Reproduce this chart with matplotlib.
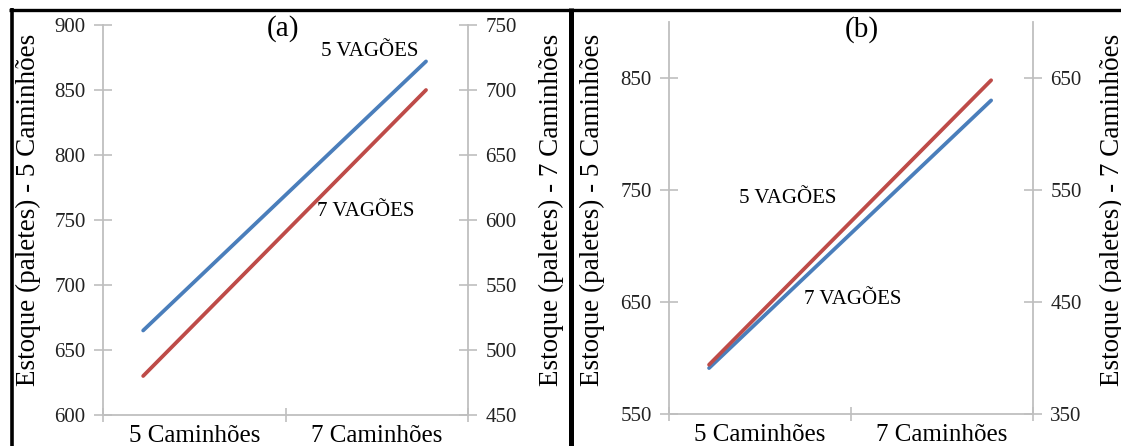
import matplotlib
matplotlib.use("Agg")
import matplotlib.pyplot as plt
from matplotlib.lines import Line2D

plt.rcParams['font.family'] = ['Liberation Serif', 'DejaVu Serif']

# ---- data -------------------------------------------------------------
categories = ["5 Caminhões", "7 Caminhões"]
line_x = [0.22, 1.77]  # horizontal span of each series on the category axis

a_5vagoes = [665, 872]
a_7vagoes = [630, 850]
b_5vagoes = [594, 848]
b_7vagoes = [591, 830]

a_left_ticks = [600, 650, 700, 750, 800, 850, 900]
a_right_ticks = [450, 500, 550, 600, 650, 700, 750]
b_left_ticks = [550, 650, 750, 850]
b_right_ticks = [350, 450, 550, 650]

left_label = "Estoque (paletes) - 5 Caminhões"
right_label = "Estoque (paletes) - 7 Caminhões"

BLUE = "#4A7EBB"
RED = "#BE4B48"
GRID = "#BFBFBF"

W, H = 1121, 446
fig = plt.figure(figsize=(W / 100, H / 100), dpi=100)


def style_axis(ax, twin, left_lim, left_ticks, right_lim, right_ticks):
    ax.set_xlim(0, 2)
    ax.set_ylim(*left_lim)
    ax.set_yticks(left_ticks)
    twin.set_ylim(*right_lim)
    twin.set_yticks(right_ticks)
    ax.set_xticks([0, 1, 2])
    ax.set_xticklabels([])
    ax.set_xticks([0.5, 1.5], minor=True)
    ax.set_xticklabels(categories, minor=True, fontsize=18)
    ax.tick_params(axis='x', which='minor', length=0, pad=7)
    ax.tick_params(axis='x', which='major', direction='inout', length=10,
                   color=GRID, width=1.2)
    for a in (ax, twin):
        for s in a.spines.values():
            s.set_visible(False)
    ax.spines['left'].set_visible(True)
    ax.spines['bottom'].set_visible(True)
    twin.spines['right'].set_visible(True)
    for s in (ax.spines['left'], ax.spines['bottom'], twin.spines['right']):
        s.set_color(GRID)
        s.set_linewidth(1.3)
    ax.tick_params(axis='y', direction='inout', length=13, color=GRID,
                   width=1.2, labelsize=15, pad=6, labelcolor='#222222')
    twin.tick_params(axis='y', direction='inout', length=13, color=GRID,
                     width=1.2, labelsize=15, pad=6, labelcolor='#222222')
    ax.tick_params(axis='x', labelcolor='black')
    ax.set_ylabel(left_label, fontsize=19.5, va='center')
    twin.set_ylabel(right_label, fontsize=19.5, rotation=90, va='center')


# ---- panel (a) --------------------------------------------------------
axa = fig.add_axes([103 / W, 1 - 415 / H, 365 / W, 390 / H])
axa2 = axa.twinx()
style_axis(axa, axa2, (600, 900), a_left_ticks, (450, 750), a_right_ticks)
axa.plot(line_x, a_5vagoes, color=BLUE, lw=2.7, solid_capstyle='round')
axa.plot(line_x, a_7vagoes, color=RED, lw=2.7, solid_capstyle='round')
axa.text(0.493, 0.99, "(a)", transform=axa.transAxes, ha='center', va='center', fontsize=21)
axa.text(0.732, 0.931, "5 VAGÕES", transform=axa.transAxes, ha='center', va='center', fontsize=15)
axa.text(0.72, 0.521, "7 VAGÕES", transform=axa.transAxes, ha='center', va='center', fontsize=15)
axa.yaxis.set_label_coords((28 - 103) / 365, 0.525)
axa2.yaxis.set_label_coords((551 - 103) / 365, 0.525)

# ---- panel (b) --------------------------------------------------------
axb = fig.add_axes([669 / W, 1 - 414 / H, 364 / W, 392 / H])
axb2 = axb.twinx()
style_axis(axb, axb2, (550, 900), b_left_ticks, (350, 700), b_right_ticks)
axb.plot(line_x, b_5vagoes, color=RED, lw=2.7, solid_capstyle='round')
axb.plot(line_x, b_7vagoes, color=BLUE, lw=2.7, solid_capstyle='round', zorder=1.9)
axb.text(0.53, 0.98, "(b)", transform=axb.transAxes, ha='center', va='center', fontsize=21)
axb.text(0.327, 0.551, "5 VAGÕES", transform=axb.transAxes, ha='center', va='center', fontsize=15)
axb.text(0.505, 0.291, "7 VAGÕES", transform=axb.transAxes, ha='center', va='center', fontsize=15)
axb.yaxis.set_label_coords((592 - 669) / 364, 0.52)
axb2.yaxis.set_label_coords((1112 - 669) / 364, 0.52)

# ---- black panel frames -----------------------------------------------
def px_line(x0, y0, x1, y1, lw):
    fig.add_artist(Line2D([x0 / W, x1 / W], [1 - y0 / H, 1 - y1 / H],
                          transform=fig.transFigure, color='black', lw=lw,
                          solid_capstyle='butt'))

px_line(9, 9.5, W, 9.5, 2.4)
px_line(11.5, 8, 11.5, H, 2.6)
px_line(570.5, 8, 570.5, H, 3.6)

fig.savefig("out.png", dpi=100)
